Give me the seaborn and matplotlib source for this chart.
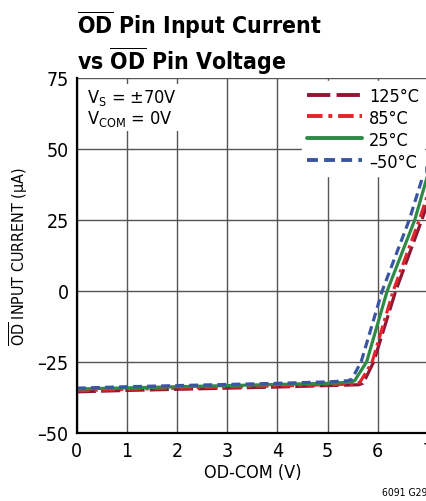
import numpy as np
import pandas as pd
import matplotlib
matplotlib.use('Agg')
import matplotlib.pyplot as plt
import seaborn as sns

# curve data (V, uA)
temps = ['125°C', '85°C', '25°C', '–50°C']
v_125 = [0, 1, 2, 3, 4, 5, 5.62, 5.70, 5.76, 5.92, 6.36, 6.88, 7.0]
i_125 = [-35.6, -35.1, -34.7, -34.3, -33.9, -33.4, -33.1, -32.6, -30.8, -25, 0, 25, 31]
v_85 = [0, 1, 2, 3, 4, 5, 5.56, 5.64, 5.71, 5.89, 6.31, 6.83, 7.0]
i_85 = [-35.2, -34.7, -34.3, -33.9, -33.5, -33.1, -32.8, -32.3, -30.4, -25, 0, 25, 34]
v_25 = [0, 1, 2, 3, 4, 5, 5.46, 5.54, 5.60, 5.78, 6.19, 6.74, 7.0]
i_25 = [-34.6, -34.2, -33.8, -33.4, -33.0, -32.6, -32.2, -31.7, -30.0, -25, 0, 25, 41]
v_m50 = [0, 1, 2, 3, 4, 5, 5.40, 5.48, 5.53, 5.67, 6.09, 6.63, 7.0]
i_m50 = [-34.3, -33.8, -33.4, -33.0, -32.6, -32.1, -31.7, -31.2, -29.6, -25, 0, 25, 46]

xticks = [0, 1, 2, 3, 4, 5, 6, 7]
yticks = [-50, -25, 0, 25, 50, 75]

colors = {'125°C': '#8e1733', '85°C': '#e3242b', '25°C': '#2e8b46', '–50°C': '#3a55a4'}
dashes = {'125°C': (6, 1.6), '85°C': (4, 1.5, 1, 1.5), '25°C': '', '–50°C': (2.8, 1.6)}

frames = []
for t, v, i in zip(temps, [v_125, v_85, v_25, v_m50], [i_125, i_85, i_25, i_m50]):
    frames.append(pd.DataFrame({'V': v, 'I': i, 'T': t}))
df = pd.concat(frames, ignore_index=True)

sns.set_style('white')
plt.rcParams['font.family'] = ['DejaVu Sans']
plt.rcParams['font.stretch'] = 'condensed'
plt.rcParams['mathtext.fontset'] = 'custom'
plt.rcParams['mathtext.rm'] = 'DejaVu Sans:stretch=condensed'
plt.rcParams['mathtext.bf'] = 'DejaVu Sans:weight=bold:stretch=condensed'
plt.rcParams['mathtext.it'] = 'DejaVu Sans:style=italic:stretch=condensed'
plt.rcParams['text.color'] = 'black'
plt.rcParams['axes.labelcolor'] = 'black'
plt.rcParams['xtick.color'] = 'black'
plt.rcParams['ytick.color'] = 'black'

fig = plt.figure(figsize=(4.27, 5.02), dpi=100)
ax = fig.add_axes([0.180, 0.136, 0.822, 0.707])

sns.lineplot(data=df, x='V', y='I', hue='T', style='T', palette=colors, dashes=dashes,
             estimator=None, sort=False, linewidth=2.3, ax=ax)

ax.set_xlim(0, 7)
ax.set_ylim(-50, 75)
ax.set_xticks(xticks)
ax.set_yticks(yticks)
ax.set_yticklabels([str(y).replace('-', '–') for y in yticks])
ax.grid(True, color='#555555', linewidth=1.0)
ax.set_axisbelow(True)
ax.tick_params(length=0, labelsize=14, pad=6)
for s in ['top', 'right']:
    ax.spines[s].set_visible(False)
for s in ['left', 'bottom']:
    ax.spines[s].set_color('black')
    ax.spines[s].set_linewidth(1.6)

ax.set_xlabel('OD-COM (V)', fontsize=13, labelpad=2)
ax.set_ylabel(r'$\overline{\mathrm{OD}}$ INPUT CURRENT (µA)', fontsize=11.5, labelpad=5)

leg = ax.legend(loc='upper right', fontsize=13, frameon=True, handlelength=3.0,
                borderaxespad=0.2, labelspacing=0.22, handletextpad=0.4,
                borderpad=0.3, fancybox=False)
leg.get_frame().set_edgecolor('white')
leg.get_frame().set_facecolor('white')
leg.get_frame().set_alpha(1)
for line in leg.get_lines():
    line.set_linewidth(2.8)

ax.text(0.03, 0.975, 'V$_\\mathrm{S}$ = ±70V\nV$_\\mathrm{COM}$ = 0V', transform=ax.transAxes,
        fontsize=13, va='top', ha='left', linespacing=1.1,
        bbox=dict(facecolor='white', edgecolor='none', pad=2))

fig.text(77 / 427, 1 - 9 / 502,
         r'$\overline{\mathbf{OD}}$ Pin Input Current' + '\n' + r'vs $\overline{\mathbf{OD}}$ Pin Voltage',
         fontsize=16.5, fontweight='bold', va='top', ha='left', linespacing=1.2)
fig.text(1.0, 1 - 493 / 502, '6091 G29', fontsize=7.5, ha='right', va='center')

fig.savefig('out.png', dpi=100)
